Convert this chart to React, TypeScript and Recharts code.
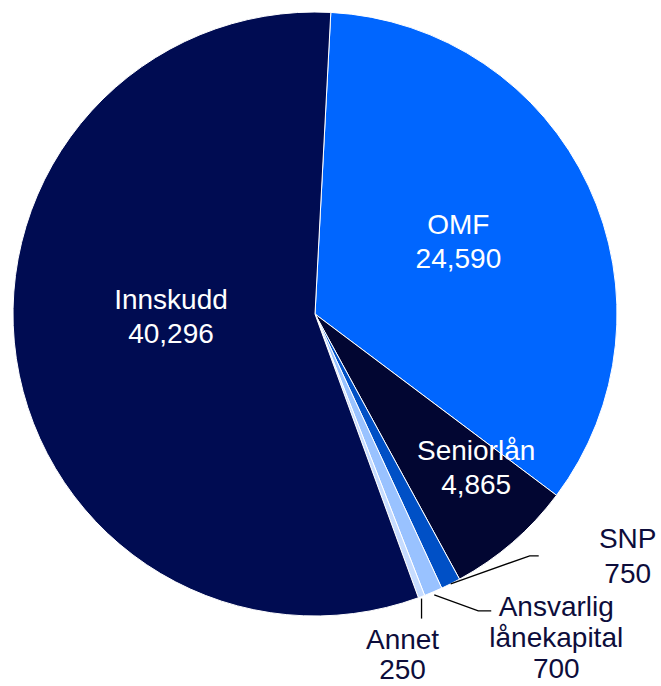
import { Cell, Pie, PieChart } from "recharts";

const categories = ["OMF", "Seniorlån", "SNP", "Ansvarlig lånekapital", "Annet", "Innskudd"];
const values = [24590, 4865, 750, 700, 250, 40296];
const colors = ["#0066ff", "#020632", "#0050c6", "#99c2ff", "#c6dcff", "#000c52"];
const labelLines = [["OMF"], ["Seniorlån"], ["SNP"], ["Ansvarlig", "lånekapital"], ["Annet"], ["Innskudd"]];

const RADIAN = Math.PI / 180;
const FONT = "'Liberation Sans', Arial, sans-serif";
const LINE_GAP = 34;

// inner labels: radius and angle nudge from the slice mid angle
const innerLayout: Record<string, { r: number; shift: number }> = {
  OMF: { r: 161, shift: 2 },
  Seniorlån: { r: 222, shift: 5.7 },
  Innskudd: { r: 144, shift: -7.7 },
};

// outer labels: leader path and text offsets from the slice edge point
const outerLayout: Record<string, { path: [number, number][]; tx: number; ty: number; gap: number }> = {
  SNP: { path: [[0, 0], [79, -28], [88, -28]], tx: 177, ty: -36, gap: 35 },
  "Ansvarlig lånekapital": { path: [[1, 3], [45, 19], [58, 19]], tx: 123, ty: 24.5, gap: 31 },
  Annet: { path: [[0, 2], [0, 22]], tx: -19, ty: 52.5, gap: 30 },
};

const data = categories.map((name, i) => ({ name, value: values[i] }));

type LabelProps = {
  cx: number;
  cy: number;
  midAngle: number;
  outerRadius: number;
  index: number;
  name: string;
  value: number;
};

function SliceLabel({ cx, cy, midAngle, outerRadius, index, name, value }: LabelProps) {
  const lines = [...labelLines[index], value.toLocaleString("en-US")];
  const inner = innerLayout[name];
  if (inner) {
    const a = (midAngle + inner.shift) * RADIAN;
    const x = cx + inner.r * Math.cos(a);
    const y = cy - inner.r * Math.sin(a);
    const top = y - ((lines.length - 1) * LINE_GAP) / 2 + 10;
    return (
      <text textAnchor="middle" fill="#ffffff" fontSize={28} fontFamily={FONT}>
        {lines.map((t, i) => (
          <tspan key={i} x={x} y={top + i * LINE_GAP}>
            {t}
          </tspan>
        ))}
      </text>
    );
  }
  const outer = outerLayout[name];
  const a = midAngle * RADIAN;
  const ex = cx + outerRadius * Math.cos(a);
  const ey = cy - outerRadius * Math.sin(a);
  const points = outer.path.map(([dx, dy]) => `${ex + dx},${ey + dy}`).join(" ");
  return (
    <g>
      <polyline points={points} fill="none" stroke="#000000" strokeWidth={1.3} />
      <text textAnchor="middle" fill="#0d0d3b" fontSize={28} fontFamily={FONT}>
        {lines.map((t, i) => (
          <tspan key={i} x={ex + outer.tx} y={ey + outer.ty + i * outer.gap}>
            {t}
          </tspan>
        ))}
      </text>
    </g>
  );
}

export default function App() {
  return (
    <div style={{ position: "absolute", left: 0, top: 0, background: "#ffffff" }}>
      <PieChart width={661} height={686} margin={{ top: 0, right: 0, bottom: 0, left: 0 }}>
        <Pie
          data={data}
          dataKey="value"
          nameKey="name"
          cx={315}
          cy={314}
          outerRadius={302}
          startAngle={87}
          endAngle={-273}
          stroke="#ffffff"
          strokeWidth={1}
          labelLine={false}
          label={(props: any) => <SliceLabel {...props} />}
          isAnimationActive={false}
        >
          {data.map((d, i) => (
            <Cell key={d.name} fill={colors[i]} />
          ))}
        </Pie>
      </PieChart>
    </div>
  );
}
